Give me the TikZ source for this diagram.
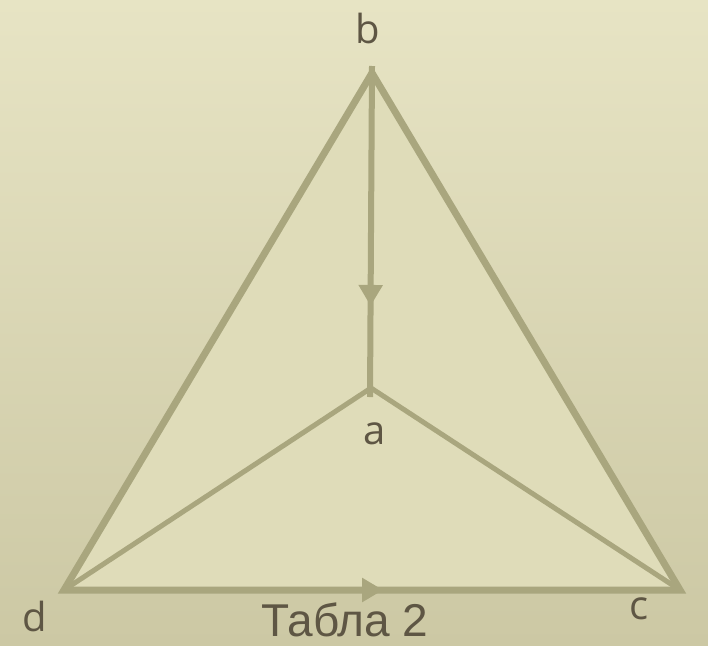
\documentclass[tikz,border=0pt]{standalone}
\usepackage{fontspec}
\setmainfont{Liberation Sans}
\newfontfamily\lblfont{Open Sans}
\usetikzlibrary{arrows.meta,decorations.markings}
\definecolor{bgtop}{HTML}{E7E4C4}
\definecolor{bgbot}{HTML}{CCC8A4}
\definecolor{inner}{HTML}{DFDCB9}
\definecolor{edge}{HTML}{A9A67E}
\definecolor{ink}{HTML}{5E5644}
\tikzset{
  outerline/.style={draw=edge, line width=7pt, line join=miter},
  innerline/.style={draw=edge, line width=5pt},
  vlabel/.style={font=\lblfont\fontsize{40}{40}\selectfont, text=ink, inner sep=0pt, anchor=base},
  midarrow/.style={postaction={decorate}, decoration={markings,
     mark=at position #1 with {\arrow{Triangle[length=21pt,width=23pt]}}}}
}
\begin{document}
\begin{tikzpicture}[x=1pt,y=-1pt]
\useasboundingbox (0,0) rectangle (708,645);
\shade[top color=bgtop, bottom color=bgbot] (0,0) rectangle (708,645);
% vertices
\coordinate (b) at (372,73);
\coordinate (d) at (64,590);
\coordinate (c) at (680,590);
\coordinate (a) at (371,388);
\coordinate (btop) at (372,66);
\coordinate (aend) at (370,397);
% fill
\fill[inner] (b) -- (d) -- (c) -- cycle;
% inner edges
\draw[innerline] (a) -- (d);
\draw[innerline] (a) -- (c);
% outer edges
\draw[outerline] (d) -- (b) -- (c) -- cycle;
\draw[outerline, draw=none, midarrow=0.518] (d) -- (c);
% vertical edge b -> a
\draw[innerline, line width=6pt, edge, midarrow=0.725] (btop) -- (aend);
% labels
\node[vlabel] (lb) at (368,43) {b};
\node[vlabel] (la) at (375,444) {a};
\node[vlabel] (ld) at (35,631) {d};
\node[vlabel] (lc) at (639,619) {c};
\node[font=\fontsize{46}{46}\selectfont, text=ink, inner sep=0pt, text depth=0pt, anchor=base] (t) at (345,636) {Табла 2};
\end{tikzpicture}
\end{document}
